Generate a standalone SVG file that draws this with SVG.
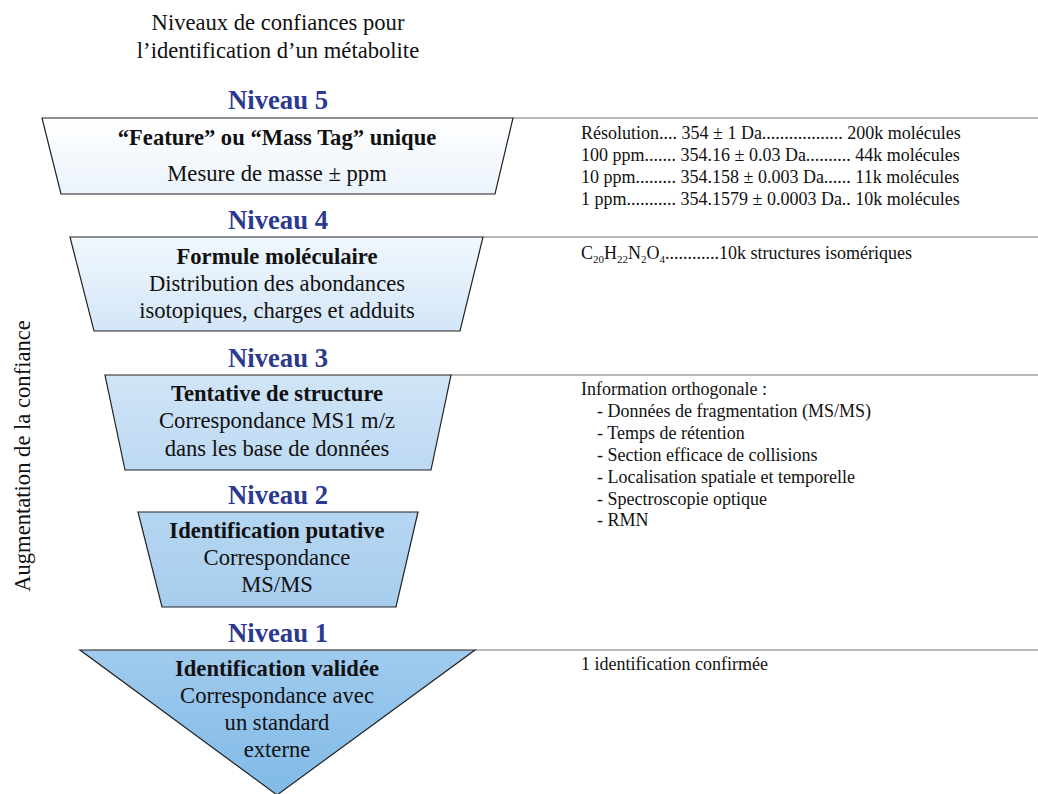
<svg xmlns="http://www.w3.org/2000/svg" width="1038" height="794" viewBox="0 0 1038 794">
<style>
text{font-family:'Liberation Serif',Tinos,'Times New Roman',Times,serif;fill:#111}
.t{font-size:22.6px;text-anchor:middle}
.b{font-weight:bold}
.lvl{font-size:26.7px;font-weight:bold;fill:#2b3990;text-anchor:middle}
.r{font-size:18px}
.sep{stroke:#a0a0a0;stroke-width:1.3;fill:none}
.shape{stroke:#222;stroke-width:1.2}
</style>
<defs>
<linearGradient id="g5" x1="0" y1="0" x2="0" y2="1"><stop offset="0" stop-color="#ffffff"/><stop offset="1" stop-color="#eaf3fb"/></linearGradient>
<linearGradient id="g4" x1="0" y1="0" x2="0" y2="1"><stop offset="0" stop-color="#f1f7fd"/><stop offset="1" stop-color="#d3e6f7"/></linearGradient>
<linearGradient id="g3" x1="0" y1="0" x2="0" y2="1"><stop offset="0" stop-color="#d1e5f7"/><stop offset="1" stop-color="#bcd9f2"/></linearGradient>
<linearGradient id="g2" x1="0" y1="0" x2="0" y2="1"><stop offset="0" stop-color="#b5d6f1"/><stop offset="1" stop-color="#a7cdee"/></linearGradient>
<linearGradient id="g1" x1="0" y1="0" x2="0" y2="1"><stop offset="0" stop-color="#a0cbee"/><stop offset="1" stop-color="#80bae7"/></linearGradient>
</defs>
<text class="t" x="278" y="30">Niveaux de confiances pour</text>
<text class="t" x="278" y="58">l’identification d’un métabolite</text>
<text class="t" transform="translate(30,456) rotate(-90)">Augmentation de la confiance</text>
<g id="separators">
<line class="sep" x1="513" y1="118" x2="1038" y2="118"/>
<line class="sep" x1="483" y1="237" x2="1038" y2="237"/>
<line class="sep" x1="450" y1="375" x2="1038" y2="375"/>
<line class="sep" x1="475" y1="650" x2="1038" y2="650"/>
</g>
<g id="level5">
<text class="lvl" x="278" y="109">Niveau 5</text>
<polygon class="shape" fill="url(#g5)" points="42,118 513,118 495,194 61,194"/>
<text class="t b" x="277" y="145">“Feature” ou “Mass Tag” unique</text>
<text class="t" x="277" y="181">Mesure de masse ± ppm</text>
</g>
<g id="level4">
<text class="lvl" x="278" y="229">Niveau 4</text>
<polygon class="shape" fill="url(#g4)" points="70,237 483,237 460,331 94,331"/>
<text class="t b" x="277" y="264">Formule moléculaire</text>
<text class="t" x="277" y="291">Distribution des abondances</text>
<text class="t" x="277" y="318">isotopiques, charges et adduits</text>
</g>
<g id="level3">
<text class="lvl" x="278" y="367">Niveau 3</text>
<polygon class="shape" fill="url(#g3)" points="105,375 451,375 431,470 125,470"/>
<text class="t b" x="277" y="401">Tentative de structure</text>
<text class="t" x="277" y="428">Correspondance MS1 m/z</text>
<text class="t" x="277" y="456">dans les base de données</text>
</g>
<g id="level2">
<text class="lvl" x="278" y="504">Niveau 2</text>
<polygon class="shape" fill="url(#g2)" points="138,512 418,512 396,607 162,607"/>
<text class="t b" x="277" y="538">Identification putative</text>
<text class="t" x="277" y="565">Correspondance</text>
<text class="t" x="277" y="592">MS/MS</text>
</g>
<g id="level1">
<text class="lvl" x="278" y="642">Niveau 1</text>
<polygon class="shape" fill="url(#g1)" points="80,650 475,650 277,795"/>
<text class="t b" x="277" y="676">Identification validée</text>
<text class="t" x="277" y="703">Correspondance avec</text>
<text class="t" x="277" y="730">un standard</text>
<text class="t" x="277" y="757">externe</text>
</g>
<g id="notes">
<text class="r" x="581" y="139">Résolution.... 354 ± 1 Da.................. 200k molécules</text>
<text class="r" x="581" y="161">100 ppm....... 354.16 ± 0.03 Da.......... 44k molécules</text>
<text class="r" x="581" y="183">10 ppm......... 354.158 ± 0.003 Da...... 11k molécules</text>
<text class="r" x="581" y="205">1 ppm........... 354.1579 ± 0.0003 Da.. 10k molécules</text>
<text class="r" x="581" y="259">C<tspan font-size="11" dy="4">20</tspan><tspan dy="-4">H</tspan><tspan font-size="11" dy="4">22</tspan><tspan dy="-4">N</tspan><tspan font-size="11" dy="4">2</tspan><tspan dy="-4">O</tspan><tspan font-size="11" dy="4">4</tspan><tspan dy="-4">............10k structures isomériques</tspan></text>
<text class="r" x="581" y="395">Information orthogonale :</text>
<text class="r" x="597" y="417">- Données de fragmentation (MS/MS)</text>
<text class="r" x="597" y="439">- Temps de rétention</text>
<text class="r" x="597" y="461">- Section efficace de collisions</text>
<text class="r" x="597" y="483">- Localisation spatiale et temporelle</text>
<text class="r" x="597" y="505">- Spectroscopie optique</text>
<text class="r" x="597" y="526">- RMN</text>
<text class="r" x="581" y="670">1 identification confirmée</text>
</g>
</svg>
